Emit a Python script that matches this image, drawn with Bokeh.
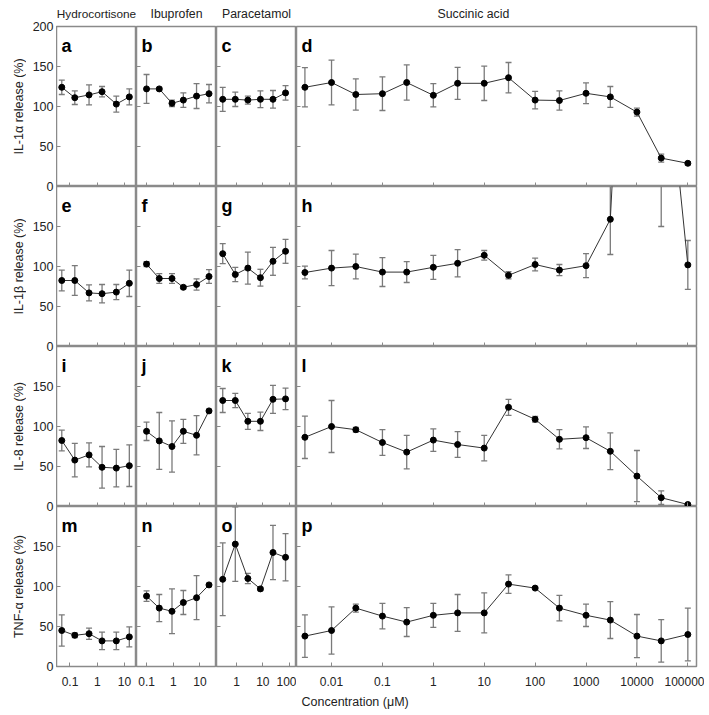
import math
from bokeh.plotting import figure
from bokeh.layouts import gridplot, row
from bokeh.models import Range1d, FixedTicker, CustomJSTickFormatter, Label, Title, ColumnDataSource
from bokeh.core.properties import value
from bokeh.embed import file_html
from bokeh.resources import INLINE

# ---------------- data ----------------
drugs = ["Hydrocortisone", "Ibuprofen", "Paracetamol", "Succinic acid"]
cytokines = ["IL-1\u03b1 release (%)", "IL-1\u03b2 release (%)", "IL-8 release (%)", "TNF-\u03b1 release (%)"]
letters = list("abcdefghijklmnop")

conc_hc = [0.05, 0.15, 0.5, 1.5, 5, 15]
conc_ibu = [0.1, 0.3, 0.9, 2.4, 7.5, 22]
conc_para = [0.3, 0.9, 2.7, 8.1, 24.3, 72.9]
conc_succ = [0.003, 0.01, 0.03, 0.1, 0.3, 1, 3, 10, 30, 100, 300, 1000, 3000, 10000, 30000, 100000]

# Hydrocortisone
hc_il1a = [124, 111, 114.5, 118.5, 103, 112]
hc_il1a_err = [9, 8.5, 12.5, 6.5, 10, 10]
hc_il1b = [82.5, 82.5, 67, 66, 68, 79]
hc_il1b_err = [13, 18.5, 10, 11.5, 9.5, 16.5]
hc_il8 = [82.5, 58, 64.5, 49, 48, 51]
hc_il8_err = [13, 21, 15, 26, 23.5, 26]
hc_tnf = [45, 39, 41, 32, 32, 37]
hc_tnf_err = [19.5, 3, 7, 11, 11, 12.5]

# Ibuprofen
ibu_il1a = [122, 122, 104, 108, 113, 116]
ibu_il1a_err = [18, 2, 4, 9, 15.5, 11.5]
ibu_il1b = [103, 85, 85, 74, 77.5, 87.5]
ibu_il1b_err = [3, 6, 6, 2, 7, 8.5]
ibu_il8 = [94, 82, 75, 94, 89, 119.5]
ibu_il8_err = [11.5, 35.5, 32, 15, 24.5, 2]
ibu_tnf = [88, 73, 69, 80, 86, 102]
ibu_tnf_err = [6.5, 17, 28, 15, 27.5, 2]

# Paracetamol
para_il1a = [109, 109, 108, 109, 109, 117]
para_il1a_err = [15, 9, 5, 10.5, 11, 9]
para_il1b = [116, 90, 98, 86, 106.5, 119]
para_il1b_err = [12.5, 9, 20, 10.5, 17.5, 15]
para_il8 = [132.5, 132.5, 106.5, 106.5, 134, 134.5]
para_il8_err = [15, 9, 10, 11.5, 17.5, 13.5]
para_tnf = [109, 153, 110, 97, 142.5, 136.5]
para_tnf_err = [45.5, 46.5, 6.5, 2, 34, 29.5]

# Succinic acid
succ_il1a = [124, 130, 115, 116, 130, 114, 129, 129, 136, 108, 107.5, 116.5, 112, 93, 35.5, 29]
succ_il1a_err = [24.5, 28, 19.5, 21, 22, 14.5, 20, 21.5, 19, 11, 12, 13, 13, 5, 5, 2]
succ_il1b = [92.5, 98, 100, 93, 93, 99, 104, 114, 89, 102.5, 95.5, 101, 159, 800, 430, 102]
succ_il1b_err = [8, 22, 15.5, 18, 13, 15, 17, 6, 4.5, 8, 7, 15, 44, 300, 280, 30.5]
succ_il8 = [86.5, 100, 96, 80, 68, 83, 77.5, 73, 124, 109, 84, 86, 69, 38, 11, 2.5]
succ_il8_err = [26.5, 32.5, 3, 16, 21, 14, 16, 16, 10, 3.5, 12, 13.5, 23, 32, 8.5, 1.5]
succ_tnf = [38, 45, 73, 63, 55.5, 64, 67, 67, 103, 98, 73, 64, 58, 38, 32, 40]
succ_tnf_err = [26.5, 29.5, 5, 16, 18, 15, 23, 25, 11.5, 1.5, 16, 14, 23, 27, 26.5, 33]

concs = [conc_hc, conc_ibu, conc_para, conc_succ]
values = [
    [hc_il1a, ibu_il1a, para_il1a, succ_il1a],
    [hc_il1b, ibu_il1b, para_il1b, succ_il1b],
    [hc_il8, ibu_il8, para_il8, succ_il8],
    [hc_tnf, ibu_tnf, para_tnf, succ_tnf],
]
errors = [
    [hc_il1a_err, ibu_il1a_err, para_il1a_err, succ_il1a_err],
    [hc_il1b_err, ibu_il1b_err, para_il1b_err, succ_il1b_err],
    [hc_il8_err, ibu_il8_err, para_il8_err, succ_il8_err],
    [hc_tnf_err, ibu_tnf_err, para_tnf_err, succ_tnf_err],
]

x_limits = [(0.032, 27.5), (0.042, 42), (0.174, 190), (0.00205, 148000)]
x_ticks = [[0.1, 1, 10], [0.1, 1, 10], [1, 10, 100],
           [0.01, 0.1, 1, 10, 100, 1000, 10000, 100000]]
x_tick_labels = [["0.1", "1", "10"], ["0.1", "1", "10"], ["1", "10", "100"],
                 ["0.01", "0.1", "1", "10", "100", "1000", "10000", "100000"]]
y_max = 200
y_ticks = [0, 50, 100, 150, 200]
y_tick_labels = ["0", "50", "100", "150", "200"]
x_title = "Concentration (\u03bcM)"

# ---------------- style ----------------
FONT = "Liberation Sans"
FRAME_W = [80, 80, 80, 400]
FRAME_H = 160
TOP = 26
LAB_W = 26          # width of the strip holding the rotated row titles
LAB_X = 18          # centre of the rotated row titles inside that strip
GRAY = "#8a8a8a"
EBAR = "#7a7a7a"
TXT = "#222222"
N_ROWS = 4
TITLE_SIZES = ["11.8px", "12.3px", "12.3px", "12.3px"]


def make_panel(r, c):
    p = figure(x_axis_type="log",
               x_range=Range1d(*x_limits[c]), y_range=Range1d(0, y_max),
               frame_width=FRAME_W[c], frame_height=FRAME_H,
               output_backend="svg", toolbar_location=None,
               min_border_left=0,
               min_border_right=8 if c == 3 else 0,
               min_border_top=TOP if r == 0 else 0,
               min_border_bottom=0)
    p.grid.visible = False
    p.outline_line_color = GRAY
    p.outline_line_width = 1.5
    p.background_fill_color = "white"
    p.border_fill_color = "white"

    # x axis: inward ticks, labels only on the bottom row
    xa = p.xaxis[0]
    xa.ticker = FixedTicker(ticks=x_ticks[c])
    xa.major_tick_in = 4
    xa.major_tick_out = 0
    xa.minor_tick_in = 0
    xa.minor_tick_out = 0
    xa.axis_line_color = None
    xa.major_tick_line_color = GRAY
    if r == N_ROWS - 1:
        xa.formatter = CustomJSTickFormatter(
            args=dict(t=x_ticks[c], l=x_tick_labels[c]),
            code="const i = t.indexOf(tick); return i >= 0 ? l[i] : '';")
        xa.major_label_text_font = FONT
        xa.major_label_text_font_size = "12px"
        xa.major_label_text_color = TXT
        xa.major_label_standoff = 10
    else:
        xa.formatter = CustomJSTickFormatter(code="return '';")
        xa.major_label_text_font_size = "0px"
        xa.major_label_standoff = 0

    # y axis: inward ticks only (labels drawn by the shared strip on the left)
    ya = p.yaxis[0]
    ya.ticker = FixedTicker(ticks=y_ticks)
    ya.formatter = CustomJSTickFormatter(code="return '';")
    ya.major_label_text_font_size = "0px"
    ya.major_label_standoff = 0
    ya.major_tick_in = 4
    ya.major_tick_out = 0
    ya.minor_tick_in = 0
    ya.minor_tick_out = 0
    ya.axis_line_color = None
    ya.major_tick_line_color = GRAY

    # data
    x = concs[c]
    y = values[r][c]
    e = errors[r][c]
    lo = [v - d for v, d in zip(y, e)]
    hi = [v + d for v, d in zip(y, e)]
    src = ColumnDataSource(dict(x=x, y=y, lo=lo, hi=hi))
    p.segment(x0="x", y0="lo", x1="x", y1="hi", source=src, line_color=EBAR, line_width=1.3)
    p.scatter("x", "lo", source=src, marker="dash", size=6, line_color=EBAR, line_width=1.3)
    p.scatter("x", "hi", source=src, marker="dash", size=6, line_color=EBAR, line_width=1.3)
    p.line("x", "y", source=src, line_color="#333333", line_width=1)
    p.scatter("x", "y", source=src, marker="circle", size=6, fill_color="black", line_color="black")

    # panel letter
    p.add_layout(Label(x=x_limits[c][0], y=y_max, x_offset=5, y_offset=-19,
                       text=letters[r * 4 + c], text_font=FONT, text_font_size="18px",
                       text_font_style="bold", text_color="black", text_baseline="alphabetic"))

    # column titles
    if r == 0:
        if c == 3:
            t = Title(text=drugs[c], align="left", offset=141)
        else:
            t = Title(text=drugs[c], align="center")
        t.text_font = FONT
        t.text_font_size = TITLE_SIZES[c]
        t.text_font_style = "normal"
        t.text_color = TXT
        t.standoff = 8
        t.vertical_align = "top"
        p.add_layout(t, "above")

    if r == N_ROWS - 1 and c == 3:
        t = Title(text=x_title, align="left", offset=5)
        t.text_font = FONT
        t.text_font_size = "12.5px"
        t.text_font_style = "normal"
        t.text_color = TXT
        t.standoff = 9
        p.add_layout(t, "below")
    return p


panels = [[make_panel(r, c) for c in range(4)] for r in range(N_ROWS)]
grid = gridplot(panels, toolbar_location=None)

# ---- shared left strip with the y tick labels of every row (one canvas, nothing cut) ----
stack_ticks = []
stack_labels = []
for r in range(N_ROWS):
    base = (N_ROWS - 1 - r) * y_max
    for t, l in zip(y_ticks, y_tick_labels):
        if t == y_max and r != 0:
            continue
        stack_ticks.append(base + t)
        stack_labels.append(l)

ax_strip = figure(x_range=Range1d(0, 1), y_range=Range1d(0, N_ROWS * y_max),
                  frame_width=2, frame_height=N_ROWS * FRAME_H,
                  min_border_left=28, min_border_right=0, min_border_top=TOP, min_border_bottom=12,
                  output_backend="svg", toolbar_location=None,
                  x_axis_location=None)
ax_strip.grid.visible = False
ax_strip.outline_line_color = None
ax_strip.background_fill_color = "white"
ax_strip.border_fill_color = "white"
sa = ax_strip.yaxis[0]
sa.ticker = FixedTicker(ticks=stack_ticks)
sa.formatter = CustomJSTickFormatter(args=dict(t=stack_ticks, l=stack_labels),
                                     code="const i = t.indexOf(tick); return i >= 0 ? l[i] : '';")
sa.major_tick_in = 0
sa.major_tick_out = 0
sa.minor_tick_in = 0
sa.minor_tick_out = 0
sa.axis_line_color = None
sa.major_label_text_font = FONT
sa.major_label_text_font_size = "12.5px"
sa.major_label_text_color = TXT
sa.major_label_standoff = 1

# ---- strip with the rotated row titles ----
lab_strip = figure(x_range=Range1d(0, LAB_W), y_range=Range1d(0, N_ROWS * y_max),
                   frame_width=LAB_W, frame_height=N_ROWS * FRAME_H,
                   min_border_left=0, min_border_right=0, min_border_top=TOP, min_border_bottom=0,
                   output_backend="svg", toolbar_location=None,
                   x_axis_location=None, y_axis_location=None)
lab_strip.grid.visible = False
lab_strip.outline_line_color = None
lab_strip.background_fill_color = "white"
lab_strip.border_fill_color = "white"
row_centers = [(N_ROWS - 1 - r) * y_max + y_max / 2 for r in range(N_ROWS)]
lab_strip.text(x=[LAB_X] * N_ROWS, y=row_centers, text=cytokines, angle=math.pi / 2,
               text_align="center", text_baseline="middle",
               text_font=value(FONT), text_font_size="12.5px", text_color=TXT)

layout = row(lab_strip, ax_strip, grid)

open("out.html", "w").write(file_html(layout, INLINE))
